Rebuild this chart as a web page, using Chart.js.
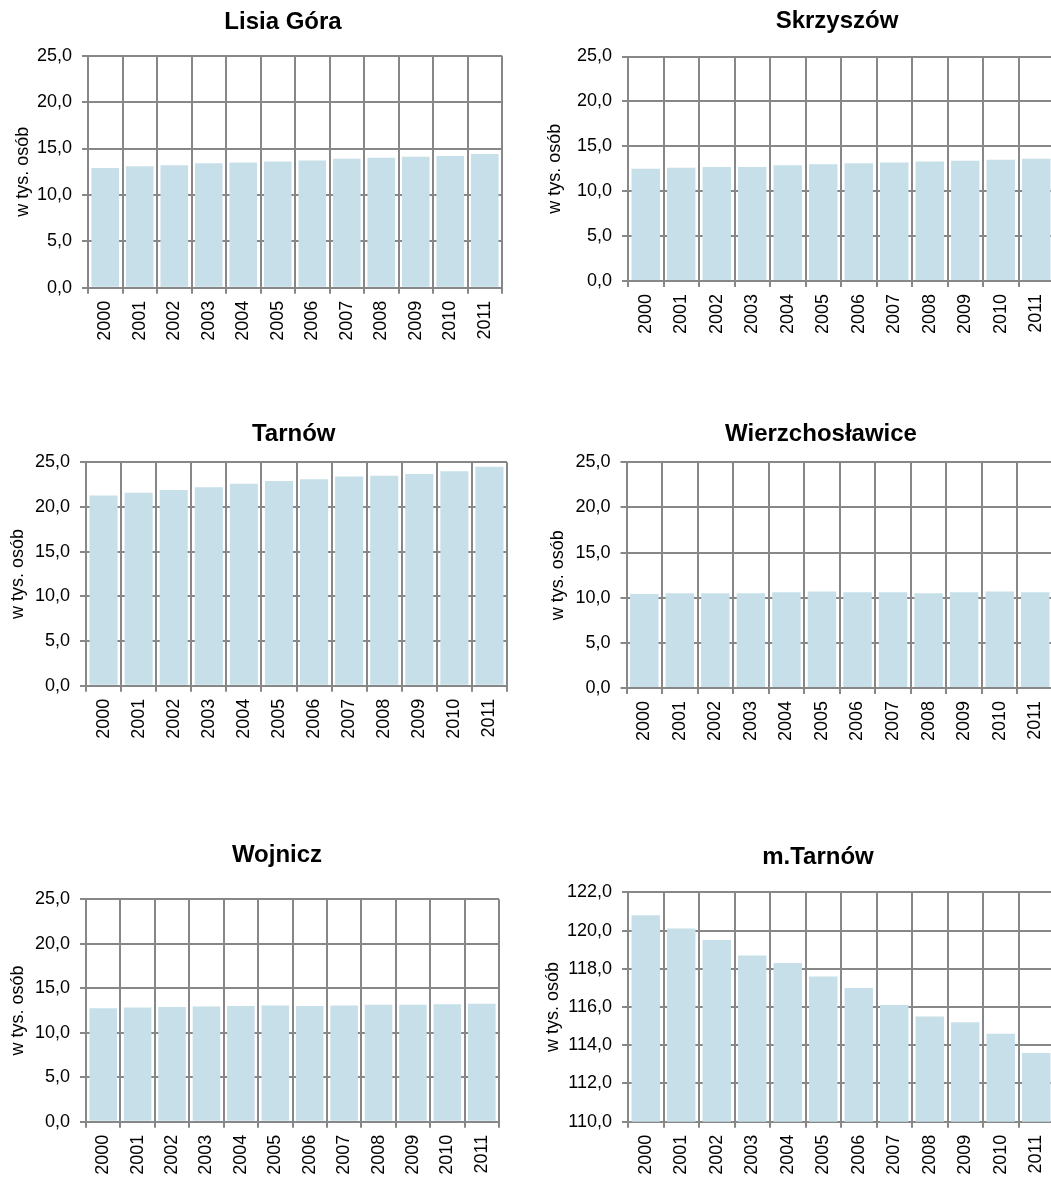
<!DOCTYPE html>
<html lang="pl">
<head>
<meta charset="utf-8">
<title>Ludność gmin 2000-2011</title>
<script src="https://cdn.jsdelivr.net/npm/chart.js@4.4.1/dist/chart.umd.min.js"></script>
<style>
    html, body { margin: 0; padding: 0; background: #fff; }
    #page { position: relative; width: 1051px; height: 1180px; overflow: hidden; }
    #page canvas { position: absolute; }
</style>
</head>
<body>
<div id="page"></div>
<script>
// lata (oś X)
var years = ['2000', '2001', '2002', '2003', '2004', '2005', '2006', '2007', '2008', '2009', '2010', '2011'];

// liczba ludności w tys. osób
var lisiaGora = [12.9, 13.1, 13.2, 13.4, 13.5, 13.6, 13.7, 13.9, 14.0, 14.1, 14.2, 14.4];
var skrzyszow = [12.5, 12.6, 12.7, 12.7, 12.9, 13.0, 13.1, 13.2, 13.3, 13.4, 13.5, 13.6];
var tarnow = [21.3, 21.6, 21.9, 22.2, 22.6, 22.9, 23.1, 23.4, 23.5, 23.7, 24.0, 24.5];
var wierzchoslawice = [10.4, 10.5, 10.5, 10.5, 10.6, 10.7, 10.6, 10.6, 10.5, 10.6, 10.7, 10.6];
var wojnicz = [12.76, 12.83, 12.9, 12.94, 13.01, 13.05, 13.01, 13.05, 13.16, 13.16, 13.2, 13.27];
var mTarnow = [120.8, 120.1, 119.5, 118.7, 118.3, 117.6, 117.0, 116.1, 115.5, 115.2, 114.6, 113.6];

// podziałki osi Y
var ticksGmina = [0, 5, 10, 15, 20, 25];
var ticksMiasto = [110, 112, 114, 116, 118, 120, 122];

var yTitle = 'w tys. osób';

var FONT = '"Liberation Sans", Arial, sans-serif';
var GRID = '#878787';
var BAR = '#c6dfe8';

// rozmieszczenie paneli na stronie (obszar wykresu, środek tytułu, środek opisu osi Y)
var panels = [
    { title: 'Lisia Góra', data: lisiaGora, ticks: ticksGmina, area: [88, 502, 55.7, 287.7], titleAt: [283, 23.3], yTitleX: 23 },
    { title: 'Skrzyszów', data: skrzyszow, ticks: ticksGmina, area: [628, 1054, 56.5, 281], titleAt: [837, 22], yTitleX: 555 },
    { title: 'Tarnów', data: tarnow, ticks: ticksGmina, area: [86, 507, 462.3, 685.8], titleAt: [293.7, 435], yTitleX: 18 },
    { title: 'Wierzchosławice', data: wierzchoslawice, ticks: ticksGmina, area: [626.5, 1053, 462.3, 688], titleAt: [821, 435], yTitleX: 558 },
    { title: 'Wojnicz', data: wojnicz, ticks: ticksGmina, area: [86, 499, 899.3, 1121.7], titleAt: [277, 856], yTitleX: 18 },
    { title: 'm.Tarnów', data: mTarnow, ticks: ticksMiasto, area: [628, 1054, 892.3, 1121.7], titleAt: [818, 858.7], yTitleX: 553 }
];

/**
 * Rysuje jeden panel (wykres słupkowy) tak, żeby obszar wykresu wypadł w podanym miejscu
 */
function drawPanel(p) {
    var left = p.area[0], right = p.area[1], top = p.area[2], bottom = p.area[3];
    var titleX = p.titleAt[0], titleY = p.titleAt[1] - 1;

    var tickSize = 18, tickLine = tickSize * 1.2;
    var titleSize = 24, titleLine = titleSize * 1.2;

    // lewa krawędź osi Y (mieści opis osi i etykiety)
    var axisStart = p.yTitleX - tickLine / 2 - 1;
    // tytuł jest środkowany na całej ramce, więc z prawej dokładam pustą oś o takiej szerokości
    var rightGap = Math.max(0, 2 * titleX - axisStart - right);

    var canvasLeft = left < 500 ? 0 : 520;
    var canvasTop = Math.round(titleY - 20);
    var padLeft = axisStart - canvasLeft;
    var xAxisHeight = 60;

    var titlePadTop = titleY - canvasTop - titleLine / 2;
    var titlePadBottom = top - canvasTop - titleLine - titlePadTop;

    var canvas = document.createElement('canvas');
    canvas.width = Math.ceil(right + rightGap - canvasLeft);
    canvas.height = Math.ceil(bottom + xAxisHeight - canvasTop);
    canvas.style.left = canvasLeft + 'px';
    canvas.style.top = canvasTop + 'px';
    document.getElementById('page').appendChild(canvas);
    var padRight = canvas.width - (right + rightGap - canvasLeft);
    var padBottom = canvas.height - (bottom - canvasTop) - xAxisHeight;

    var yTicks = p.ticks;

    return new Chart(canvas.getContext('2d'), {
        type: 'bar',
        data: {
            labels: years,
            datasets: [{
                data: p.data,
                backgroundColor: BAR,
                borderWidth: 0,
                barPercentage: 0.8,
                categoryPercentage: 1
            }]
        },
        options: {
            responsive: false,
            animation: false,
            layout: { padding: { left: padLeft, right: padRight, top: 0, bottom: padBottom } },
            plugins: {
                legend: { display: false },
                tooltip: { enabled: false },
                title: {
                    display: true,
                    text: p.title,
                    color: '#000',
                    font: { family: FONT, size: titleSize, weight: 'bold', lineHeight: 1.2 },
                    padding: { top: titlePadTop, bottom: titlePadBottom }
                }
            },
            scales: {
                x: {
                    grid: { color: GRID, lineWidth: 2, tickLength: 6, offset: true },
                    border: { color: GRID, width: 2 },
                    ticks: {
                        color: '#000',
                        font: { family: FONT, size: tickSize },
                        minRotation: 90,
                        maxRotation: 90,
                        autoSkip: false,
                        padding: 7
                    },
                    afterFit: function (scale) { scale.height = xAxisHeight; }
                },
                y: {
                    min: yTicks[0],
                    max: yTicks[yTicks.length - 1],
                    grid: { color: GRID, lineWidth: 2, tickLength: 6 },
                    border: { color: GRID, width: 2 },
                    ticks: {
                        color: '#000',
                        font: { family: FONT, size: tickSize },
                        padding: 10,
                        callback: function (v) { return Number(v).toFixed(1).replace('.', ','); }
                    },
                    title: {
                        display: true,
                        text: yTitle,
                        color: '#000',
                        font: { family: FONT, size: tickSize, lineHeight: 1.2 },
                        padding: { top: p.yTitleX - axisStart - tickLine / 2, bottom: 0 }
                    },
                    afterBuildTicks: function (scale) {
                        scale.ticks = yTicks.map(function (v) { return { value: v }; });
                    },
                    afterFit: function (scale) { scale.width = left - axisStart; }
                },
                // pusta oś z prawej - tylko przesuwa środek tytułu
                yGap: {
                    position: 'right',
                    grid: { display: false, drawTicks: false },
                    border: { display: false },
                    ticks: { display: false },
                    afterFit: function (scale) { scale.width = rightGap; }
                }
            }
        }
    });
}

panels.forEach(drawPanel);
</script>
</body>
</html>
